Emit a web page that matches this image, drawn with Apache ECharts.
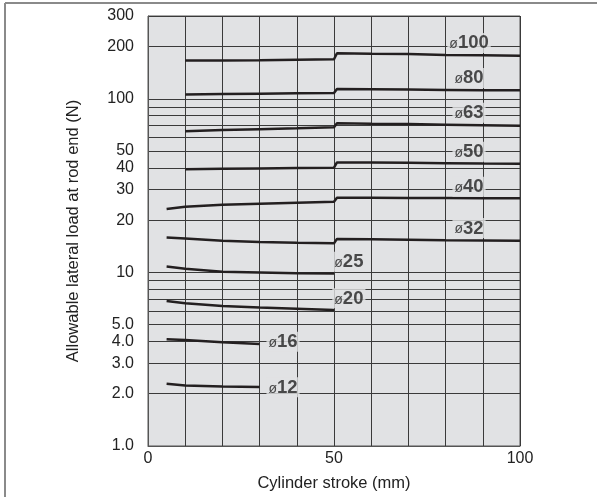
<!DOCTYPE html>
<html lang="en">
<head>
  <meta charset="UTF-8">
  <title>Allowable lateral load</title>
  <style>
    html, body { margin: 0; padding: 0; background: #fff; }
    #chart { width: 597px; height: 497px; }
  </style>
</head>
<body>
  <div id="chart"></div>
  <script src="https://cdn.jsdelivr.net/npm/echarts@6/dist/echarts.min.js"></script>
  <script>
    // stroke positions (mm)
    const strokeLong = [10, 20, 30, 40, 50, 50.8, 60, 70, 80, 90, 100]
    const strokeLong5 = [5, 10, 20, 30, 40, 50, 50.8, 60, 70, 80, 90, 100]
    const stroke50 = [5, 10, 20, 30, 40, 50]
    const stroke30 = [5, 10, 20, 30]

    // allowable lateral load (N) per bore size
    const load100 = [166, 166.5, 167, 168, 169, 183, 182, 181, 179, 178, 177]
    const load80 = [106, 106.5, 107, 107.5, 108, 114, 113.5, 113, 112.5, 112, 112]
    const load63 = [65, 66.1, 66.9, 67.6, 68.5, 72.3, 71.9, 71.5, 71, 70.5, 70]
    const load50 = [39.3, 39.5, 39.7, 39.9, 40.1, 43, 42.9, 42.8, 42.6, 42.4, 42.3]
    const load40 = [23.2, 23.9, 24.5, 24.9, 25.2, 25.5, 26.9, 26.9, 26.8, 26.8, 26.7, 26.7]
    const load32 = [15.9, 15.7, 15.2, 14.95, 14.8, 14.7, 15.6, 15.5, 15.4, 15.3, 15.25, 15.2]
    const load25 = [10.8, 10.5, 10.1, 10.0, 9.9, 9.85]
    const load20 = [6.84, 6.65, 6.41, 6.27, 6.17, 6.07]
    const load16 = [4.12, 4.08, 3.96, 3.87]
    const load12 = [2.28, 2.23, 2.2, 2.19]

    // bore labels and where they sit (stroke, load)
    const boreNames = ['100', '80', '63', '50', '40', '32', '25', '20', '16', '12']
    const boreLabelX = [86.3, 86.3, 86.3, 86.3, 86.3, 86.3, 54, 54, 36.3, 36.3]
    const boreLabelY = [210, 132, 83, 49.6, 31.2, 18, 11.5, 7.09, 3.99, 2.18]

    // axis ticks
    const yGridValues = [1, 2, 3, 4, 5, 6, 7, 8, 9, 10, 20, 30, 40, 50, 60, 70, 80, 90, 100, 200, 300]
    const yLabelValues = [1, 2, 3, 4, 5, 10, 20, 30, 40, 50, 100, 200, 300]
    const yLabelTexts = ['1.0', '2.0', '3.0', '4.0', '5.0', '10', '20', '30', '40', '50', '100', '200', '300']
    const xLabelValues = [0, 50, 100]

    const curves = [
      [strokeLong, load100], [strokeLong, load80], [strokeLong, load63], [strokeLong, load50],
      [strokeLong5, load40], [strokeLong5, load32], [stroke50, load25], [stroke50, load20],
      [stroke30, load16], [stroke30, load12]
    ]

    const font = '"Liberation Sans", Arial, sans-serif'
    const plotBg = '#e1e2e4'

    const chart = echarts.init(document.getElementById('chart'))

    const lineSeries = curves.map((c, i) => {
      return {
        name: 'ø' + boreNames[i],
        type: 'line',
        symbol: 'none',
        lineStyle: { color: '#231f20', width: 2.5 },
        data: c[0].map((x, j) => [x, c[1][j]]),
        z: 3
      }
    })

    chart.setOption({
      animation: false,
      graphic: [
        { type: 'line', shape: { x1: 5, y1: 3, x2: 597, y2: 3 }, style: { stroke: '#8a8a8a', lineWidth: 2 } },
        { type: 'line', shape: { x1: 5, y1: 3, x2: 5, y2: 497 }, style: { stroke: '#8a8a8a', lineWidth: 2 } }
      ],
      grid: {
        left: 148, right: 77, top: 16, bottom: 51,
        show: true, backgroundColor: plotBg, borderColor: '#555', borderWidth: 1
      },
      xAxis: {
        type: 'value',
        min: 0, max: 100, interval: 10,
        name: 'Cylinder stroke (mm)',
        nameLocation: 'middle',
        nameGap: 29,
        nameTextStyle: { fontFamily: font, fontSize: 16.5, color: '#222' },
        axisLine: { show: true, lineStyle: { color: '#555' } },
        axisTick: { show: false },
        axisLabel: {
          fontFamily: font, fontSize: 16, color: '#222', margin: 5,
          formatter: v => xLabelValues.includes(v) ? String(v) : ''
        },
        splitLine: { show: true, lineStyle: { color: '#3a3a3a', width: 1 } }
      },
      yAxis: {
        type: 'log',
        logBase: 10,
        min: 1, max: 300,
        name: 'Allowable lateral load at rod end (N)',
        nameLocation: 'middle',
        nameGap: 66,
        nameTextStyle: { fontFamily: font, fontSize: 16.5, color: '#222' },
        axisLine: { show: true, lineStyle: { color: '#555' } },
        axisTick: { show: false, customValues: yGridValues },
        axisLabel: {
          customValues: yLabelValues,
          fontFamily: font, fontSize: 16, color: '#222', margin: 14,
          formatter: v => {
            const i = yLabelValues.findIndex(t => Math.abs(t - v) < 1e-6 * t)
            return i >= 0 ? yLabelTexts[i] : ''
          }
        },
        splitLine: { show: true, lineStyle: { color: '#3a3a3a', width: 1 } }
      },
      series: lineSeries.concat([{
        type: 'scatter',
        symbolSize: 0,
        z: 5,
        data: boreNames.map((n, i) => [boreLabelX[i], boreLabelY[i], n]),
        label: {
          show: true,
          position: 'inside',
          backgroundColor: plotBg,
          padding: [1, 2, 0, 2],
          formatter: p => '{a|ø}{b|' + p.value[2] + '}',
          rich: {
            a: { fontFamily: font, fontSize: 14, color: '#222', padding: [2, 0, 0, 0] },
            b: { fontFamily: font, fontSize: 18.5, fontWeight: 'bold', color: '#222' }
          }
        }
      }])
    })
  </script>
</body>
</html>
